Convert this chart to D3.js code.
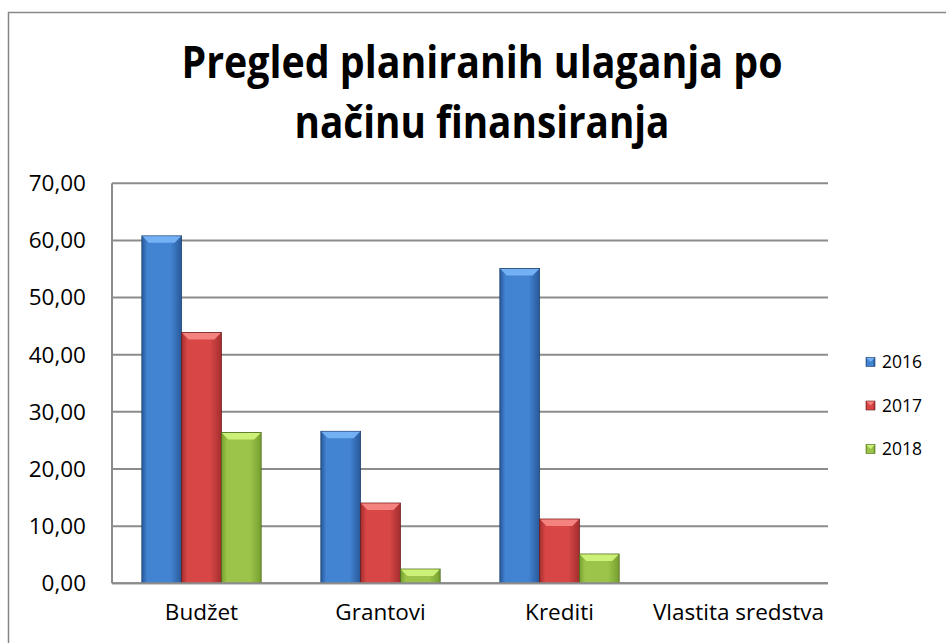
<!DOCTYPE html>
<html lang="en">
<head>
    <meta charset="UTF-8">
    <title>Pregled planiranih ulaganja</title>
    <script src="https://d3js.org/d3.v7.min.js"></script>
    <style>
        body { margin: 0; background: #fff; }
        svg { display: block; }
        text { font-family: "Open Sans", "DejaVu Sans", sans-serif; fill: #000; }
    </style>
</head>
<body>
    <svg width="946" height="643"></svg>

    <script>
        // data
        const categories = ["Budžet", "Grantovi", "Krediti", "Vlastita sredstva"];
        const years = ["2016", "2017", "2018"];
        const values2016 = [60.8, 26.6, 55.1, 0];
        const values2017 = [43.9, 14.05, 11.25, 0];
        const values2018 = [26.4, 2.5, 5.13, 0];
        const yTicks = [0, 10, 20, 30, 40, 50, 60, 70];
        const titleLines = ["Pregled planiranih ulaganja po", "načinu finansiranja"];

        const seriesValues = [values2016, values2017, values2018];
        // base, dark edge, light bevel
        const colors = [
            { mid: "#4384d2", edge: "#28599a", top: "#74b0f4", dark: "#1d4372" },
            { mid: "#d84646", edge: "#a42e2e", top: "#f4827e", dark: "#6e1c1c" },
            { mid: "#9cc44a", edge: "#76a030", top: "#cdf078", dark: "#4d6a1a" }
        ];

        const svg = d3.select("svg");
        const margin = { left: 112, right: 828, top: 183.3, bottom: 583.3 };

        // outer chart frame
        svg.append("rect")
            .attr("x", 8.5).attr("y", 12.5)
            .attr("width", 960).attr("height", 660)
            .attr("fill", "none")
            .attr("stroke", "#878787")
            .attr("stroke-width", 1.5);

        // title
        svg.selectAll("text.title")
            .data(titleLines)
            .enter().append("text")
            .attr("class", "title")
            .attr("x", 482)
            .attr("y", (d, i) => 78 + i * 60)
            .attr("text-anchor", "middle")
            .style("font-weight", "bold")
            .style("font-size", "44px")
            .attr("textLength", (d, i) => i === 0 ? 601 : 375)
            .attr("lengthAdjust", "spacingAndGlyphs")
            .text(d => d);

        const x0 = d3.scaleBand()
            .domain(categories)
            .range([margin.left, margin.right]);

        const x1 = d3.scaleBand()
            .domain(years)
            .range([0, x0.bandwidth()])
            .paddingOuter(0.75);

        const y = d3.scaleLinear()
            .domain([0, 70])
            .range([margin.bottom, margin.top]);

        // gridlines
        svg.append("g")
            .selectAll("line")
            .data(yTicks)
            .enter().append("line")
            .attr("x1", margin.left).attr("x2", margin.right)
            .attr("y1", d => y(d)).attr("y2", d => y(d))
            .attr("stroke", "#8c8c8c")
            .attr("stroke-width", 2);

        // y labels
        svg.append("g")
            .selectAll("text")
            .data(yTicks)
            .enter().append("text")
            .attr("x", 86)
            .attr("y", d => y(d))
            .attr("dy", "0.35em")
            .attr("text-anchor", "end")
            .style("font-size", "22.5px")
            .text(d => d.toFixed(2).replace(".", ","));

        // bar gradients
        const defs = svg.append("defs");
        colors.forEach((c, i) => {
            const g = defs.append("linearGradient")
                .attr("id", "grad" + i)
                .attr("x1", "0").attr("x2", "1").attr("y1", "0").attr("y2", "0");
            g.append("stop").attr("offset", "0%").attr("stop-color", c.edge);
            g.append("stop").attr("offset", "14%").attr("stop-color", c.mid);
            g.append("stop").attr("offset", "72%").attr("stop-color", c.mid);
            g.append("stop").attr("offset", "100%").attr("stop-color", c.edge);
        });

        // bars
        const bev = 7;
        years.forEach((yr, s) => {
            const grp = svg.append("g");
            const data = categories.map((cat, i) => ({ cat, v: seriesValues[s][i] }))
                .filter(d => d.v > 0);
            const bx = d => x0(d.cat) + x1(yr);
            const bw = x1.bandwidth();

            grp.selectAll("rect")
                .data(data)
                .enter().append("rect")
                .attr("x", bx)
                .attr("y", d => y(d.v))
                .attr("width", bw)
                .attr("height", d => y(0) - y(d.v))
                .attr("fill", "url(#grad" + s + ")")
                .attr("stroke", colors[s].dark)
                .attr("stroke-width", 0.8);

            // top bevel
            grp.selectAll("path")
                .data(data)
                .enter().append("path")
                .attr("d", d => {
                    const x = bx(d), t = y(d.v);
                    const h = Math.min(bev, (y(0) - t) / 2);
                    return `M${x + 0.5},${t + 0.5} L${x + bw - 0.5},${t + 0.5} L${x + bw - h},${t + h} L${x + h},${t + h} Z`;
                })
                .attr("fill", colors[s].top);
        });

        // x axis line
        svg.append("line")
            .attr("x1", margin.left).attr("x2", margin.right)
            .attr("y1", y(0)).attr("y2", y(0))
            .attr("stroke", "#8c8c8c").attr("stroke-width", 2);
        // y axis line
        svg.append("line")
            .attr("x1", margin.left).attr("x2", margin.left)
            .attr("y1", margin.top).attr("y2", margin.bottom)
            .attr("stroke", "#8c8c8c").attr("stroke-width", 2);

        // category labels
        svg.append("g")
            .selectAll("text")
            .data(categories)
            .enter().append("text")
            .attr("x", d => x0(d) + x0.bandwidth() / 2)
            .attr("y", 620)
            .attr("text-anchor", "middle")
            .style("font-size", "22.5px")
            .text(d => d);

        // legend
        const legend = svg.append("g");
        years.forEach((yr, i) => {
            const ly = 362 + i * 43.5;
            legend.append("rect")
                .attr("x", 866).attr("y", ly - 4.5)
                .attr("width", 9).attr("height", 9)
                .attr("fill", "url(#grad" + i + ")")
                .attr("stroke", colors[i].dark)
                .attr("stroke-width", 0.6);
            legend.append("path")
                .attr("d", `M866.5,${ly - 4} L874.5,${ly - 4} L870.5,${ly} Z`)
                .attr("fill", colors[i].top);
            legend.append("text")
                .attr("x", 882)
                .attr("y", ly)
                .attr("dy", "0.35em")
                .style("font-size", "17.5px")
                .text(yr);
        });
    </script>
</body>
</html>
